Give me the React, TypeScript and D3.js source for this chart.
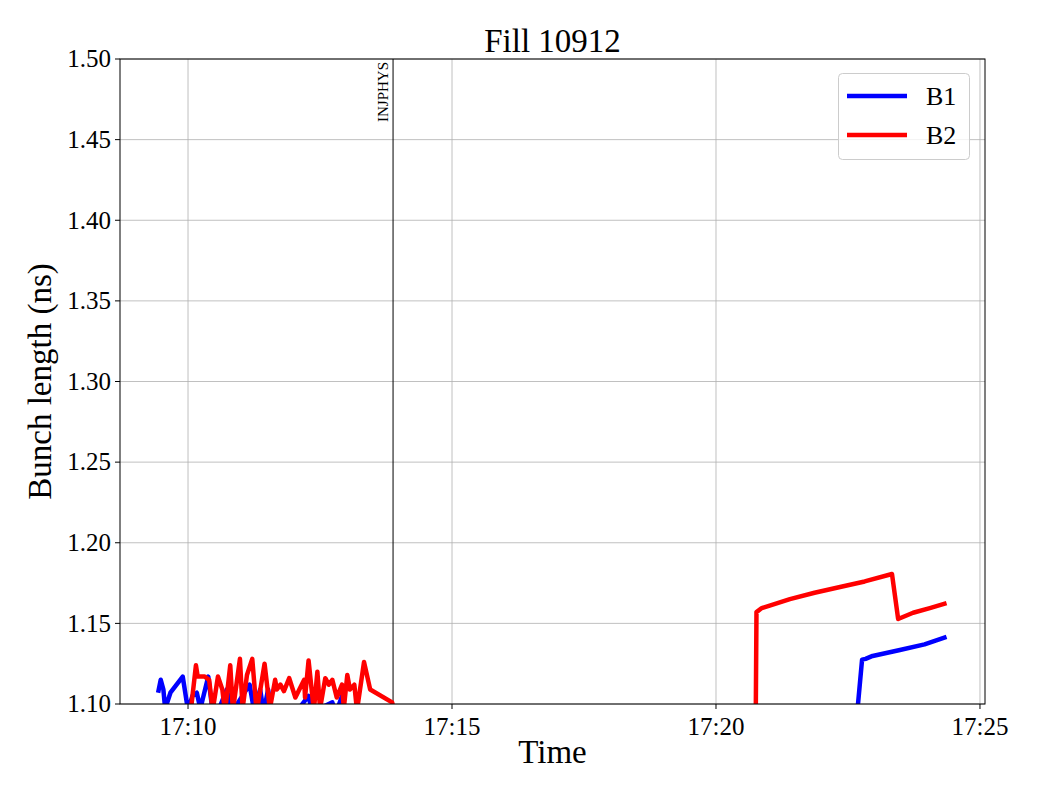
import React from "react";
import * as d3 from "d3";

const title = "Fill 10912";
const yTicks = [1.1, 1.15, 1.2, 1.25, 1.3, 1.35, 1.4, 1.45, 1.5];
const xTickLabels = ["17:10", "17:15", "17:20", "17:25"];
const markerTime = "17:13:53";
const markerLabel = "INJPHYS";

const b1Times = [
  "17:09:26", "17:09:29", "17:09:32", "17:09:34", "17:09:40", "17:09:54", "17:10:00",
  "17:10:05", "17:10:10", "17:10:14", "17:10:23", "17:10:28", "17:10:36", "17:10:44",
  "17:10:50", "17:11:10", "17:11:15", "17:11:22", "17:11:26", "17:11:31", "17:11:35",
  "17:11:56", "17:12:17", "17:12:21", "17:12:44", "17:12:48", "17:12:55", "17:12:58",
  "17:13:10", "17:22:33", "17:22:46", "17:22:50", "17:22:58", "17:23:29", "17:23:57",
  "17:24:22",
];
const b1Values = [
  1.107, 1.115, 1.109, 1.097, 1.107, 1.117, 1.096,
  1.105, 1.107, 1.097, 1.117, 1.095, 1.098, 1.109,
  1.095, 1.112, 1.096, 1.109, 1.095, 1.109, 1.095,
  1.09, 1.105, 1.095, 1.101, 1.094, 1.105, 1.094,
  1.05, 1.05, 1.1275, 1.128, 1.1298, 1.1335, 1.137,
  1.1416,
];

const b2Times = [
  "17:10:03", "17:10:09", "17:10:11", "17:10:19", "17:10:24", "17:10:28", "17:10:34",
  "17:10:39", "17:10:42", "17:10:48", "17:10:51", "17:10:59", "17:11:02", "17:11:07",
  "17:11:13", "17:11:18", "17:11:27", "17:11:33", "17:11:39", "17:11:41", "17:11:45",
  "17:11:49", "17:11:55", "17:12:02", "17:12:12", "17:12:13", "17:12:17", "17:12:23",
  "17:12:27", "17:12:30", "17:12:36", "17:12:40", "17:12:44", "17:12:49", "17:12:55",
  "17:12:57", "17:13:01", "17:13:04", "17:13:09", "17:13:12", "17:13:20", "17:13:27",
  "17:13:52", "17:14:10", "17:20:44", "17:20:46", "17:20:52", "17:21:01", "17:21:24",
  "17:21:52", "17:22:21", "17:22:49", "17:23:20", "17:23:27", "17:23:44", "17:24:03",
  "17:24:22",
];
const b2Values = [
  1.095, 1.124, 1.117, 1.117, 1.115, 1.096, 1.117,
  1.109, 1.095, 1.124, 1.096, 1.128, 1.097, 1.118,
  1.128, 1.095, 1.125, 1.097, 1.115, 1.109, 1.112,
  1.108, 1.116, 1.104, 1.115, 1.104, 1.127, 1.096,
  1.12, 1.097, 1.116, 1.112, 1.115, 1.104, 1.112,
  1.097, 1.118, 1.109, 1.112, 1.096, 1.126, 1.109,
  1.101, 1.05, 1.0, 1.157, 1.1595, 1.161, 1.165,
  1.169, 1.1726, 1.176, 1.1806, 1.1527, 1.1566, 1.1595,
  1.1626,
];

const seriesNames = ["B1", "B2"];
const seriesColors = ["#0000ff", "#ff0000"];

const parse = (s: string) => {
  const [h, m, sec] = s.split(":").map(Number);
  return new Date(2025, 0, 1, h, m, 0, Math.round(sec * 1000));
};

export default function App() {
  const W = 1040, H = 800;
  const L = 120, R = 985, T = 59, B = 704;
  const font = "'Liberation Serif', 'Times New Roman', serif";

  const x = d3
    .scaleTime()
    .domain([parse("17:08:42.7"), parse("17:25:05.7")])
    .range([L, R]);
  const y = d3.scaleLinear().domain([1.1, 1.5]).range([B, T]);

  const xTicks = xTickLabels.map((t) => parse(t + ":00"));

  const line = d3
    .line<[Date, number]>()
    .x((d) => x(d[0]))
    .y((d) => y(d[1]));

  const b1 = b1Times.map((t, i) => [parse(t), b1Values[i]] as [Date, number]);
  const b2 = b2Times.map((t, i) => [parse(t), b2Values[i]] as [Date, number]);
  const series = [b1, b2];

  const mx = x(parse(markerTime));

  return (
    <svg width={W} height={H} style={{ display: "block", margin: "-8px" }} fontFamily={font}>
      <rect x={0} y={0} width={W} height={H} fill="#fff" />
      <defs>
        <clipPath id="plot">
          <rect x={L} y={T} width={R - L} height={B - T} />
        </clipPath>
      </defs>
      {yTicks.map((v) => (
        <line key={"gy" + v} x1={L} x2={R} y1={y(v)} y2={y(v)} stroke="#b0b0b0" strokeWidth={0.8} />
      ))}
      {xTicks.map((d, i) => (
        <line key={"gx" + i} x1={x(d)} x2={x(d)} y1={T} y2={B} stroke="#b0b0b0" strokeWidth={0.8} />
      ))}
      <line x1={mx} x2={mx} y1={T} y2={B} stroke="#000" strokeWidth={1} />
      <text
        transform={`translate(${mx - 5},${T + 3}) rotate(-90)`}
        textAnchor="end"
        fontSize={15}
        fill="#000"
      >
        {markerLabel}
      </text>
      <g clipPath="url(#plot)">
        {series.map((s, i) => (
          <path
            key={i}
            d={line(s) || ""}
            fill="none"
            stroke={seriesColors[i]}
            strokeWidth={4.5}
            strokeLinejoin="round"
            strokeLinecap="butt"
          />
        ))}
      </g>
      <rect x={L} y={T} width={R - L} height={B - T} fill="none" stroke="#000" strokeWidth={1} />
      {yTicks.map((v) => (
        <g key={"yt" + v}>
          <line x1={L - 5} x2={L} y1={y(v)} y2={y(v)} stroke="#000" strokeWidth={1} />
          <text x={L - 9} y={y(v)} dy="0.33em" textAnchor="end" fontSize={25}>
            {v.toFixed(2)}
          </text>
        </g>
      ))}
      {xTicks.map((d, i) => (
        <g key={"xt" + i}>
          <line x1={x(d)} x2={x(d)} y1={B} y2={B + 5} stroke="#000" strokeWidth={1} />
          <text x={x(d)} y={B + 31} textAnchor="middle" fontSize={25}>
            {d3.timeFormat("%H:%M")(d)}
          </text>
        </g>
      ))}
      <text x={(L + R) / 2} y={52} textAnchor="middle" fontSize={33}>
        {title}
      </text>
      <text x={(L + R) / 2} y={763} textAnchor="middle" fontSize={33}>
        Time
      </text>
      <text transform={`translate(51,${(T + B) / 2}) rotate(-90)`} textAnchor="middle" fontSize={33}>
        Bunch length (ns)
      </text>
      <rect x={838.5} y={73.5} width={131} height={86} rx={4} fill="#fff" fillOpacity={0.8} stroke="#cccccc" strokeWidth={1} />
      {seriesNames.map((n, i) => (
        <g key={n}>
          <line x1={847} x2={907} y1={96 + i * 39} y2={96 + i * 39} stroke={seriesColors[i]} strokeWidth={4.5} />
          <text x={926} y={96 + i * 39} dy="0.35em" fontSize={26}>
            {n}
          </text>
        </g>
      ))}
    </svg>
  );
}
